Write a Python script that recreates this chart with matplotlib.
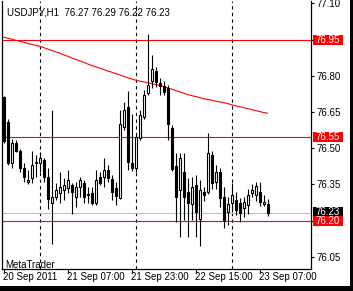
import matplotlib
matplotlib.use("Agg")
import matplotlib.pyplot as plt
from matplotlib.patches import Rectangle

plt.rcParams['font.family'] = ['Liberation Sans', 'DejaVu Sans']

# USDJPY H1 candles, 20 Sep 15:00 .. 23 Sep 09:00
opens = [76.71, 76.61, 76.44, 76.52, 76.49, 76.42, 76.36, 76.375, 76.44, 76.44,
         76.45, 76.38, 76.275, 76.30, 76.315, 76.327, 76.336, 76.348, 76.30, 76.34,
         76.356, 76.305, 76.315, 76.273, 76.38, 76.38, 76.41, 76.372, 76.336, 76.294,
         76.588, 76.671, 76.44, 76.418, 76.542, 76.629, 76.729, 76.778, 76.82, 76.77,
         76.758, 76.749, 76.584, 76.425, 76.327, 76.40, 76.32, 76.27, 76.348, 76.207,
         76.319, 76.319, 76.472, 76.36, 76.40, 76.298, 76.236, 76.273, 76.286, 76.273,
         76.253, 76.265, 76.315, 76.307, 76.319, 76.27, 76.27]
highs = [76.715, 76.62, 76.54, 76.535, 76.495, 76.44, 76.41, 76.49, 76.47, 76.485,
         76.46, 76.42, 76.66, 76.355, 76.40, 76.375, 76.41, 76.356, 76.36, 76.38,
         76.37, 76.34, 76.34, 76.41, 76.40, 76.46, 76.43, 76.39, 76.36, 76.66,
         76.69, 76.737, 76.64, 76.555, 76.658, 76.74, 76.973, 76.885, 76.836, 76.79,
         76.78, 76.76, 76.596, 76.48, 76.48, 76.48, 76.377, 76.381, 76.389, 76.369,
         76.34, 76.563, 76.49, 76.43, 76.418, 76.34, 76.298, 76.356, 76.319, 76.294,
         76.30, 76.33, 76.35, 76.36, 76.36, 76.305, 76.29]
lows = [76.52, 76.43, 76.42, 76.485, 76.40, 76.36, 76.35, 76.355, 76.38, 76.40,
        76.36, 76.25, 76.105, 76.285, 76.275, 76.286, 76.315, 76.228, 76.257, 76.30,
        76.273, 76.273, 76.265, 76.265, 76.348, 76.34, 76.36, 76.286, 76.265, 76.29,
        76.576, 76.41, 76.405, 76.40, 76.534, 76.62, 76.72, 76.75, 76.754, 76.72,
        76.72, 76.534, 76.405, 76.195, 76.133, 76.203, 76.133, 76.203, 76.133, 76.095,
        76.28, 76.31, 76.33, 76.33, 76.257, 76.17, 76.182, 76.236, 76.224, 76.195,
        76.215, 76.228, 76.30, 76.28, 76.26, 76.26, 76.22]
closes = [76.53, 76.44, 76.52, 76.49, 76.42, 76.38, 76.37, 76.43, 76.445, 76.46,
          76.38, 76.29, 76.30, 76.327, 76.34, 76.348, 76.37, 76.32, 76.34, 76.37,
          76.30, 76.31, 76.273, 76.37, 76.356, 76.41, 76.377, 76.32, 76.302, 76.60,
          76.658, 76.443, 76.42, 76.547, 76.638, 76.72, 76.762, 76.828, 76.774, 76.758,
          76.733, 76.60, 76.414, 76.30, 76.46, 76.298, 76.273, 76.34, 76.236, 76.327,
          76.307, 76.48, 76.356, 76.40, 76.294, 76.203, 76.269, 76.307, 76.244, 76.232,
          76.278, 76.307, 76.327, 76.344, 76.278, 76.278, 76.23]
ma = [76.96, 76.956, 76.952, 76.947, 76.943, 76.939, 76.934, 76.93, 76.926, 76.922,
      76.917, 76.911, 76.905, 76.899, 76.894, 76.887, 76.881, 76.874, 76.868, 76.862,
      76.856, 76.849, 76.843, 76.837, 76.832, 76.826, 76.82, 76.815, 76.809, 76.804,
      76.798, 76.792, 76.787, 76.782, 76.778, 76.775, 76.771, 76.768, 76.764, 76.76,
      76.755, 76.75, 76.745, 76.739, 76.734, 76.728, 76.722, 76.718, 76.714, 76.71,
      76.705, 76.702, 76.699, 76.695, 76.692, 76.689, 76.685, 76.68, 76.676, 76.672,
      76.668, 76.664, 76.66, 76.656, 76.652, 76.648, 76.645]

time_ticks = [0, 16, 32, 48, 64]
time_labels = ["20 Sep 2011", "21 Sep 07:00", "21 Sep 23:00", "22 Sep 15:00", "23 Sep 07:00"]
separators = [9, 33, 57]
price_ticks = [76.05, 76.20, 76.35, 76.50, 76.65, 76.80, 76.95, 77.10]
red_levels = [76.95, 76.546, 76.20]
red_texts = ["76.95", "76.55", "76.20"]
bid = 76.23

fig = plt.figure(figsize=(3.53, 2.91), dpi=100)
ax = fig.add_axes([2 / 353, 22 / 291, 309 / 353, 268 / 291])
x = list(range(len(opens)))

for xs in separators:
    ax.axvline(xs, color='black', lw=0.8, ls=(0, (3, 3)), zorder=1)
ax.axhline(bid, color='#c0c0c0', lw=0.8, zorder=1)
for lv in red_levels:
    ax.axhline(lv, color='red', lw=0.8, zorder=1)

ax.plot(x, ma, color='red', lw=0.8, zorder=2)

ax.vlines(x, lows, highs, color='black', lw=0.8, zorder=3)
for i in x:
    o, c = opens[i], closes[i]
    bottom = min(o, c)
    h = max(abs(c - o), 0.002)
    fc = 'white' if c >= o else 'black'
    ax.bar(i, h, bottom=bottom, width=0.5, color=fc, edgecolor='black',
           linewidth=0.8, zorder=4)

ax.set_xlim(-0.375, 76.875)
ax.set_ylim(76.0, 77.1095)

ax.spines['top'].set_visible(False)
for s in ['left', 'right', 'bottom']:
    ax.spines[s].set_linewidth(0.9)

# labels at levels that carry a coloured box are left to the box
covered = [f"{v:.2f}" for v in red_levels]
ax.yaxis.tick_right()
ax.set_yticks(price_ticks)
ax.set_yticklabels(["" if f"{p:.2f}" in covered else f"{p:.2f}" for p in price_ticks])
ax.tick_params(axis='y', length=2.5, width=0.8, pad=1.5, labelsize=7)
ax.set_xticks(time_ticks)
ax.set_xticklabels([])
ax.tick_params(axis='x', length=3, width=0.8, direction='out')
for t, lab in zip(time_ticks, time_labels):
    ax.text(t - 0.1, -0.012, lab, transform=ax.get_xaxis_transform(),
            ha='left', va='top', fontsize=7)

ytr = ax.get_yaxis_transform()
box_w = 30 / 309
box_h = 10 / 241.6
ax.add_patch(Rectangle((1.0 + 2 / 309, bid - box_h / 2 + 0.006), box_w, box_h, transform=ytr,
                       facecolor='black', edgecolor='none', clip_on=False, zorder=5))
ax.text(1.0 + 4 / 309, bid + 0.006, f"{bid:.2f}", transform=ytr, color='white',
        va='center', ha='left', fontsize=7, zorder=6, clip_on=False)
for lv, tx in zip(red_levels, red_texts):
    ax.add_patch(Rectangle((1.0 + 2 / 309, lv - box_h / 2), box_w, box_h, transform=ytr,
                           facecolor='red', edgecolor='none', clip_on=False, zorder=7))
    ax.text(1.0 + 4 / 309, lv, tx, transform=ytr, color='white',
            va='center', ha='left', fontsize=7, zorder=8, clip_on=False)

ax.text(5 / 309, 254 / 268, "USDJPY,H1  76.27 76.29 76.22 76.23", transform=ax.transAxes,
        ha='left', va='baseline', fontsize=7)
ax.text(3 / 309, 1.5 / 268, "MetaTrader", transform=ax.transAxes,
        ha='left', va='baseline', fontsize=7)

# window edges
fig.patches.append(Rectangle((349.5 / 353, 0), 4 / 353, 1, transform=fig.transFigure,
                             facecolor='black', edgecolor='none'))
fig.patches.append(Rectangle((0, 0), 1, 5.5 / 291, transform=fig.transFigure,
                             facecolor='black', edgecolor='none'))

fig.savefig("out.png", dpi=100, facecolor='white')
